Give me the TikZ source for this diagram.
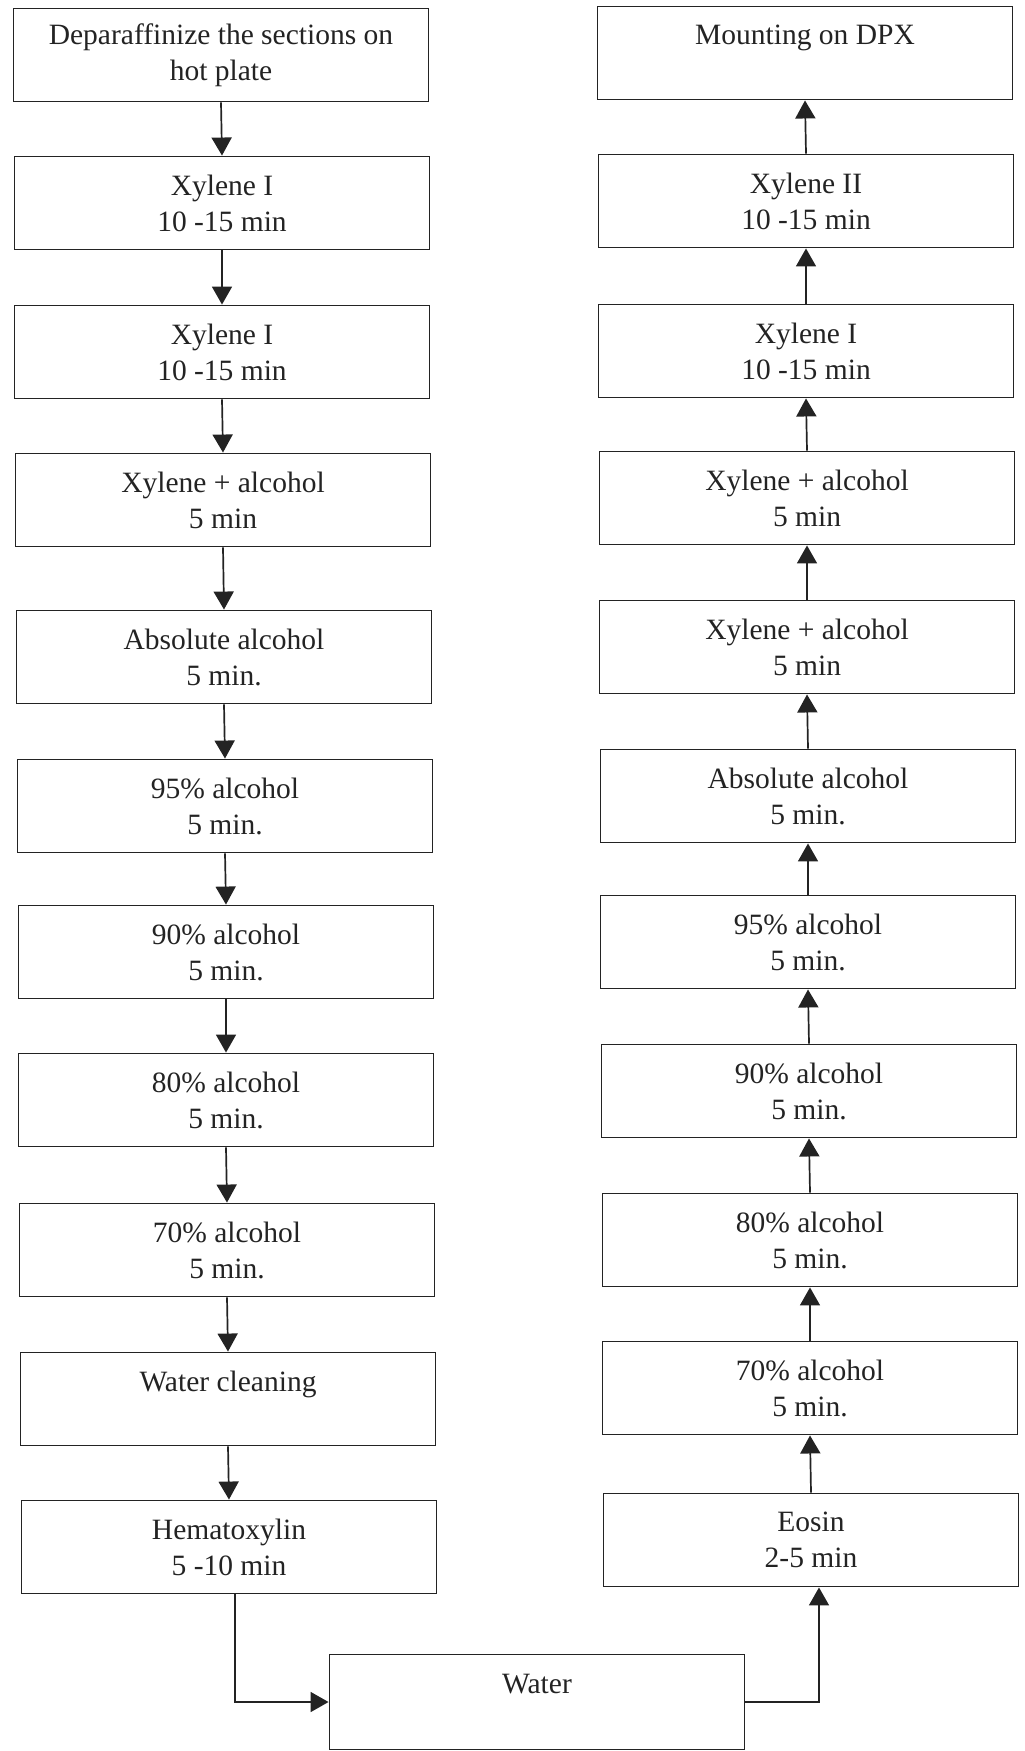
\documentclass[tikz,border=0pt]{standalone}
\usepackage{fontspec}
\setmainfont{Liberation Serif}
\usetikzlibrary{arrows.meta}
\definecolor{ink}{RGB}{35,35,35}
\begin{document}
\begin{tikzpicture}[x=1pt,y=-1pt,
  stepbox/.style={draw=ink,line width=1.9pt,minimum width=415pt,minimum height=93pt,
    inner sep=0pt,align=center,text=ink,font=\fontsize{29.5}{36}\selectfont},
  flow/.style={draw=ink,line width=1.7pt,-{Triangle[width=20pt,length=18pt]}}]
\useasboundingbox (0,0) rectangle (1025,1751);
% left column
\node[stepbox] (l1) at (221,55) {Deparaffinize the sections on\\hot plate};
\node[stepbox] (l2) at (222,203) {Xylene I\\10 -15 min};
\node[stepbox] (l3) at (222,352) {Xylene I\\10 -15 min};
\node[stepbox] (l4) at (223,500) {Xylene + alcohol\\5 min};
\node[stepbox] (l5) at (224,657) {Absolute alcohol\\5 min.};
\node[stepbox] (l6) at (225,806) {95\% alcohol\\5 min.};
\node[stepbox] (l7) at (226,952) {90\% alcohol\\5 min.};
\node[stepbox] (l8) at (226,1100) {80\% alcohol\\5 min.};
\node[stepbox] (l9) at (227,1250) {70\% alcohol\\5 min.};
\node[stepbox] (l10) at (228,1399) {Water cleaning\\\mbox{}};
\node[stepbox] (l11) at (229,1547) {Hematoxylin\\5 -10 min};
% right column
\node[stepbox] (r1) at (805,53) {Mounting on DPX\\\mbox{}};
\node[stepbox] (r2) at (806,201) {Xylene II\\10 -15 min};
\node[stepbox] (r3) at (806,351) {Xylene I\\10 -15 min};
\node[stepbox] (r4) at (807,498) {Xylene + alcohol\\5 min};
\node[stepbox] (r5) at (807,647) {Xylene + alcohol\\5 min};
\node[stepbox] (r6) at (808,796) {Absolute alcohol\\5 min.};
\node[stepbox] (r7) at (808,942) {95\% alcohol\\5 min.};
\node[stepbox] (r8) at (809,1091) {90\% alcohol\\5 min.};
\node[stepbox] (r9) at (810,1240) {80\% alcohol\\5 min.};
\node[stepbox] (r10) at (810,1388) {70\% alcohol\\5 min.};
\node[stepbox] (r11) at (811,1540) {Eosin\\2-5 min};
% bottom
\node[stepbox,minimum height=95pt] (w) at (537,1702) {Water\\\mbox{}};
% left arrows (down)
\foreach \a/\b in {l1/l2,l2/l3,l3/l4,l4/l5,l5/l6,l6/l7,l7/l8,l8/l9,l9/l10,l10/l11}
  \draw[flow] (\a.south) -- (\b.north);
% right arrows (up)
\foreach \a/\b in {r11/r10,r10/r9,r9/r8,r8/r7,r7/r6,r6/r5,r5/r4,r4/r3,r3/r2,r2/r1}
  \draw[flow] (\a.north) -- (\b.south);
% bottom connectors
\draw[flow] ([xshift=6pt]l11.south) |- (w.west);
\draw[flow] (w.east) -| ([xshift=8pt]r11.south);
\end{tikzpicture}
\end{document}
